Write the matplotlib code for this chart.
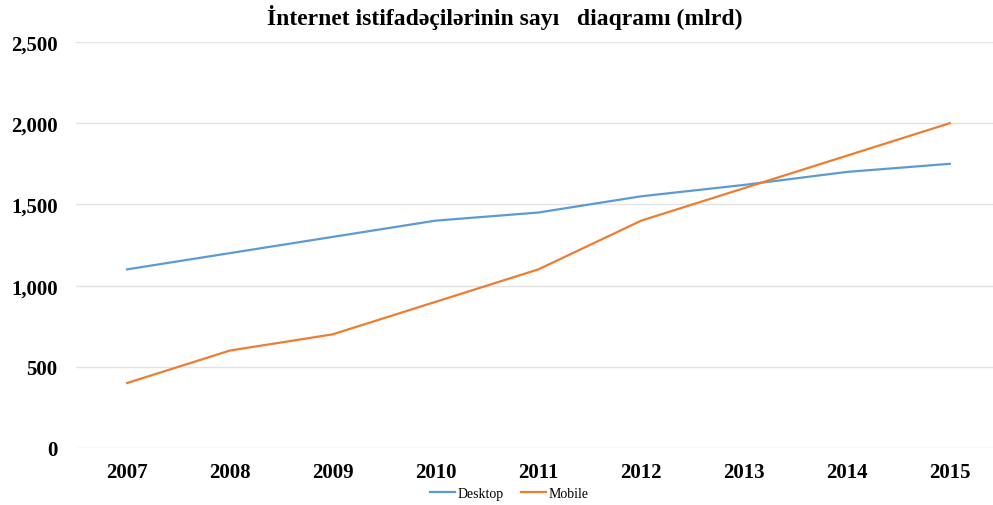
import matplotlib.pyplot as plt
from matplotlib.ticker import FuncFormatter

years = ["2007", "2008", "2009", "2010", "2011", "2012", "2013", "2014", "2015"]
desktop = [1100, 1200, 1300, 1400, 1450, 1550, 1620, 1700, 1750]
mobile = [400, 600, 700, 900, 1100, 1400, 1600, 1800, 2000]

plt.rcParams["font.family"] = ["Liberation Serif", "DejaVu Serif"]

fig = plt.figure(figsize=(9.93, 5.06), dpi=100)
ax = fig.add_axes([75.6 / 993, 57 / 506, 1 - 75.6 / 993, 406 / 506])

x = range(len(years))
ax.plot(x, desktop, color="#5B9BD5", linewidth=1.6, label="Desktop")
ax.plot(x, mobile, color="#ED7D31", linewidth=1.6, label="Mobile")

ax.set_xlim(-0.5, 8.42)
ax.set_ylim(0, 2500)
ax.set_yticks(range(0, 2501, 500))
ax.yaxis.set_major_formatter(FuncFormatter(lambda v, p: f"{int(v):,}"))
ax.set_xticks(list(x))
ax.set_xticklabels(years)

for s in ax.spines.values():
    s.set_visible(False)
ax.grid(axis="y", color="#E3E3E3", linewidth=1)
ax.set_axisbelow(True)
ax.tick_params(length=0, labelsize=15, pad=10)
ax.tick_params(axis="y", pad=13)
for lab in ax.get_xticklabels() + ax.get_yticklabels():
    lab.set_fontweight("bold")

fig.text(0.508, 0.966, "İnternet istifadəçilərinin sayı   diaqramı (mlrd)",
         ha="center", va="center", fontsize=17, fontweight="bold")

fig.legend(loc="center", bbox_to_anchor=(0.513, 0.023),
           ncol=2, frameon=False, fontsize=10, handlelength=1.8,
           columnspacing=1.2, handletextpad=0.2)

fig.savefig("out.png", dpi=100)
